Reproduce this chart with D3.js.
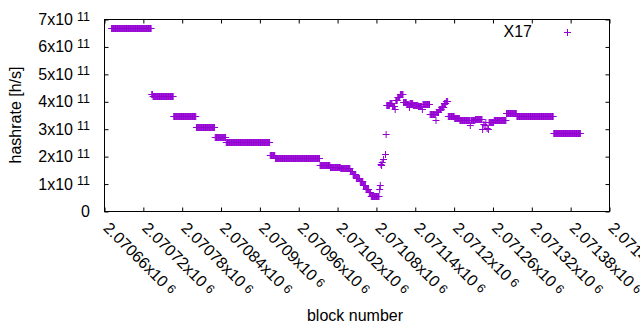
<!DOCTYPE html>
<html>
<head>
<meta charset="utf-8">
<script src="https://cdn.jsdelivr.net/npm/d3@7"></script>
<style>
  html, body { margin: 0; padding: 0; background: #fff; }
  svg { display: block; }
  text { font-family: "Liberation Sans", Arial, sans-serif; fill: #000; }
</style>
</head>
<body>
<script>
// ---- data ----
// constant-value runs of consecutive blocks: every block in [runStart, runEnd] has runValue (h/s)
const runStart = [2070671, 2070735, 2070767, 2070802, 2070831, 2070848, 2070916, 2070924, 2070993, 2071009,
                  2071025, 2071040, 2071044, 2071049, 2071055, 2071060, 2071064, 2071069, 2071072,
                  2071097, 2071101, 2071105, 2071110, 2071113, 2071117, 2071122, 2071127, 2071132,
                  2071137, 2071145, 2071152, 2071163, 2071173, 2071177, 2071181, 2071185, 2071188,
                  2071191, 2071201, 2071209, 2071226, 2071233, 2071254, 2071262, 2071269, 2071281,
                  2071297, 2071354];
const runEnd   = [2070732, 2070766, 2070801, 2070830, 2070847, 2070915, 2070923, 2070992, 2071008, 2071024,
                  2071039, 2071043, 2071048, 2071054, 2071059, 2071063, 2071068, 2071071, 2071084,
                  2071100, 2071104, 2071108, 2071112, 2071116, 2071121, 2071126, 2071130, 2071136,
                  2071144, 2071150, 2071162, 2071171, 2071176, 2071180, 2071184, 2071187, 2071190,
                  2071200, 2071208, 2071224, 2071232, 2071243, 2071261, 2071268, 2071280, 2071296,
                  2071353, 2071395];
const runValue = [6.70e11, 4.22e11, 3.49e11, 3.09e11, 2.72e11, 2.54e11, 2.07e11, 1.96e11, 1.70e11, 1.63e11,
                  1.58e11, 1.48e11, 1.37e11, 1.23e11, 1.10e11, 0.98e11, 0.81e11, 0.70e11, 0.57e11,
                  3.90e11, 3.97e11, 3.85e11, 4.08e11, 4.18e11, 4.27e11, 4.00e11, 3.92e11, 3.96e11,
                  3.88e11, 3.85e11, 3.92e11, 3.55e11, 3.62e11, 3.72e11, 3.82e11, 3.95e11, 4.02e11,
                  3.50e11, 3.40e11, 3.33e11, 3.33e11, 3.37e11, 3.27e11, 3.32e11, 3.35e11, 3.60e11,
                  3.50e11, 2.87e11];
// single scattered points
const ptBlock = [2070733, 2070734, 2071085, 2071086, 2071087, 2071088, 2071089, 2071091, 2071094, 2071095,
                 2071096, 2071109, 2071131, 2071151, 2071172, 2071225, 2071244, 2071246, 2071248, 2071249,
                 2071251, 2071253];
const ptValue = [4.29e11, 4.27e11, 0.83e11, 0.98e11, 1.74e11, 1.70e11, 1.80e11, 1.92e11, 2.10e11, 2.83e11,
                 3.90e11, 3.72e11, 3.82e11, 3.74e11, 3.34e11, 3.17e11, 3.01e11, 3.18e11, 3.14e11, 3.26e11,
                 3.05e11, 2.99e11];

const seriesName = "X17";
const xTicks = [2070660, 2070720, 2070780, 2070840, 2070900, 2070960, 2071020, 2071080, 2071140,
                2071200, 2071260, 2071320, 2071380, 2071440];
const xTickLabels = ["2.07066", "2.07072", "2.07078", "2.07084", "2.0709", "2.07096", "2.07102",
                     "2.07108", "2.07114", "2.0712", "2.07126", "2.07132", "2.07138", "2.07144"];
const yTicks = [0, 1e11, 2e11, 3e11, 4e11, 5e11, 6e11, 7e11];
const yTickLabels = ["0", "1", "2", "3", "4", "5", "6", "7"];
const xTitle = "block number";
const yTitle = "hashrate [h/s]";

// ---- build points ----
const points = [];
runStart.forEach((s, i) => {
  for (let b = s; b <= runEnd[i]; b++) points.push({ b, v: runValue[i] });
});
ptBlock.forEach((b, i) => points.push({ b, v: ptValue[i] }));

// ---- drawing ----
const W = 640, H = 330;
const L = 104.5, R = 609.5, T = 19.5, B = 211.5;
const color = "#9400d3";
const FS = 16, SFS = 12.5;

const svg = d3.select("body").append("svg").attr("width", W).attr("height", H);

const x = d3.scaleLinear().domain([2070660, 2071440]).range([L, R]);
const y = d3.scaleLinear().domain([0, 7e11]).range([B, T]);

const tl = 4;
svg.append("g").attr("transform", `translate(0,${B})`)
  .call(d3.axisBottom(x).tickValues(xTicks).tickSize(-tl).tickFormat(""))
  .call(g => g.select(".domain").remove());
svg.append("g").attr("transform", `translate(0,${T})`)
  .call(d3.axisTop(x).tickValues(xTicks).tickSize(-tl).tickFormat(""))
  .call(g => g.select(".domain").remove());
svg.append("g").attr("transform", `translate(${L},0)`)
  .call(d3.axisLeft(y).tickValues(yTicks).tickSize(-tl).tickFormat(""))
  .call(g => g.select(".domain").remove());
svg.append("g").attr("transform", `translate(${R},0)`)
  .call(d3.axisRight(y).tickValues(yTicks).tickSize(-tl).tickFormat(""))
  .call(g => g.select(".domain").remove());
svg.selectAll(".tick line").attr("stroke", "#000").attr("stroke-width", 1);

svg.append("rect").attr("x", L).attr("y", T).attr("width", R - L).attr("height", B - T)
  .attr("fill", "none").attr("stroke", "#000").attr("stroke-width", 1);

// y tick labels
yTicks.forEach((t, i) => {
  const tx = svg.append("text").attr("x", 90).attr("y", y(t) + 5.5)
    .attr("text-anchor", "end").attr("font-size", FS);
  if (t === 0) {
    tx.text(yTickLabels[i]);
  } else {
    tx.append("tspan").text(yTickLabels[i] + "x10");
    tx.append("tspan").attr("font-size", SFS).attr("dy", -4.5).attr("dx", 4).text("11");
  }
});

// x tick labels (rotated)
xTicks.forEach((t, i) => {
  const tx = svg.append("text")
    .attr("transform", `translate(${x(t) - 2},229) rotate(45)`)
    .attr("font-size", FS);
  tx.append("tspan").text(xTickLabels[i] + "x10");
  tx.append("tspan").attr("font-size", SFS).attr("dx", 4).attr("dy", -2).text("6");
});

// axis titles
svg.append("text").attr("transform", "translate(21,115) rotate(-90)")
  .attr("text-anchor", "middle").attr("font-size", FS).text(yTitle);
svg.append("text").attr("x", 355).attr("y", 321)
  .attr("text-anchor", "middle").attr("font-size", FS).text(xTitle);

// points
const hs = 3.5;
const plus = (px, py) => `M${px - hs},${py}h${2 * hs}M${px},${py - hs}v${2 * hs}`;
svg.append("g").selectAll("path").data(points).join("path")
  .attr("d", d => plus(x(d.b), Math.round(y(d.v)) + 0.5))
  .attr("stroke", color).attr("stroke-width", 1).attr("fill", "none");

// legend
svg.append("text").attr("x", 532).attr("y", 37).attr("text-anchor", "end")
  .attr("font-size", FS).text(seriesName);
svg.append("path").attr("d", plus(567.5, 32.5)).attr("stroke", color).attr("stroke-width", 1);
</script>
</body>
</html>
